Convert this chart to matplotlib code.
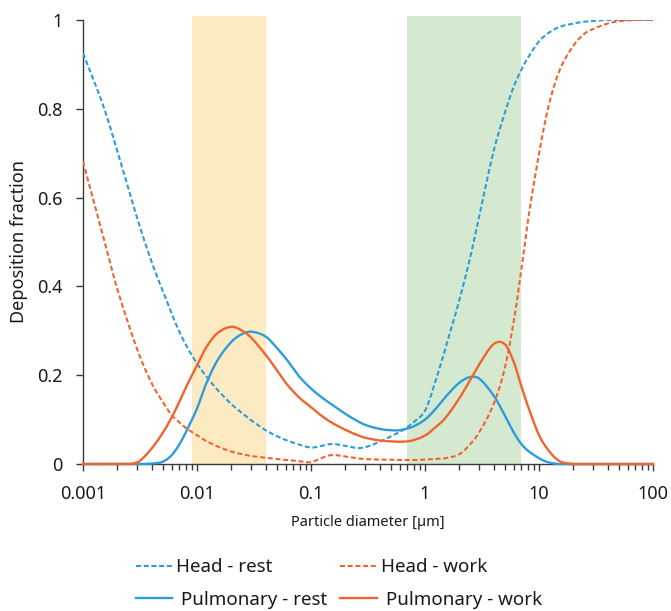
import numpy as np
import matplotlib.pyplot as plt
from matplotlib.ticker import FixedLocator, LogLocator, NullFormatter, FuncFormatter

plt.rcParams['font.family'] = ['Noto Sans', 'DejaVu Sans']

# particle diameter [um]
diameter = [0.001, 0.0015, 0.002, 0.003, 0.004, 0.005, 0.006, 0.007, 0.008,
            0.01, 0.012, 0.015, 0.02, 0.025, 0.03, 0.04, 0.05, 0.06, 0.07, 0.08,
            0.1, 0.12, 0.15, 0.2, 0.25, 0.3, 0.4, 0.5, 0.6, 0.7, 0.8,
            1, 1.2, 1.5, 2, 2.5, 3, 4, 5, 6, 7, 8,
            10, 12, 15, 20, 25, 30, 40, 50, 60, 70, 80, 100]

head_rest = [0.925, 0.808, 0.705, 0.552, 0.455, 0.390, 0.338, 0.298, 0.268,
             0.226, 0.198, 0.168, 0.135, 0.114, 0.098, 0.076, 0.063, 0.054, 0.048, 0.043,
             0.037, 0.040, 0.045, 0.041, 0.036, 0.038, 0.050, 0.062, 0.072, 0.083, 0.095,
             0.120, 0.176, 0.258, 0.369, 0.467, 0.560, 0.705, 0.790, 0.850, 0.888, 0.915,
             0.952, 0.970, 0.984, 0.992, 0.996, 0.998, 1.0, 1.0, 1.0, 1.0, 1.0, 1.0]

head_work = [0.681, 0.514, 0.394, 0.257, 0.182, 0.140, 0.110, 0.094, 0.081,
             0.065, 0.052, 0.040, 0.028, 0.022, 0.018, 0.014, 0.011, 0.009, 0.008, 0.006,
             0.004, 0.012, 0.020, 0.017, 0.013, 0.011, 0.010, 0.010, 0.009, 0.009, 0.009,
             0.010, 0.011, 0.013, 0.022, 0.045, 0.072, 0.135, 0.215, 0.321, 0.438, 0.548,
             0.699, 0.801, 0.884, 0.942, 0.969, 0.980, 0.992, 0.997, 0.999, 1.0, 1.0, 1.0]

pulm_rest = [0, 0, 0, 0, 0.001, 0.005, 0.020, 0.044, 0.072,
             0.125, 0.180, 0.232, 0.275, 0.293, 0.298, 0.287, 0.262, 0.238, 0.215, 0.195,
             0.170, 0.153, 0.135, 0.113, 0.098, 0.088, 0.079, 0.076, 0.076, 0.080, 0.085,
             0.100, 0.120, 0.150, 0.183, 0.196, 0.192, 0.154, 0.110, 0.071, 0.045, 0.030,
             0.013, 0.004, 0, 0, 0, 0, 0, 0, 0, 0, 0, 0]

pulm_work = [0, 0, 0, 0.004, 0.035, 0.070, 0.105, 0.140, 0.173,
             0.222, 0.262, 0.294, 0.309, 0.300, 0.284, 0.246, 0.212, 0.183, 0.163, 0.148,
             0.128, 0.111, 0.094, 0.077, 0.066, 0.059, 0.053, 0.051, 0.050, 0.051, 0.054,
             0.064, 0.080, 0.103, 0.148, 0.190, 0.225, 0.270, 0.270, 0.230, 0.175, 0.130,
             0.065, 0.032, 0.007, 0, 0, 0, 0, 0, 0, 0, 0, 0]

# shaded size bands [um]
yellow_band = (0.009, 0.04)
green_band = (0.7, 7)

blue = '#2E9CDB'
orange = '#F0652D'


def smooth(x, y, n=24):
    # cardinal (catmull-rom) spline through the points in log10(x) space,
    # the same idea as Excel's "smoothed line"
    lx = np.log10(np.asarray(x, float))
    y = np.asarray(y, float)
    h = np.diff(lx)
    d = np.zeros_like(y)
    d[1:-1] = (y[2:] - y[:-2]) / (lx[2:] - lx[:-2])
    d[0] = (y[1] - y[0]) / h[0]
    d[-1] = (y[-1] - y[-2]) / h[-1]
    xs, ys = [], []
    for k in range(len(h)):
        t = np.linspace(0, 1, n, endpoint=False)
        h00 = 2 * t**3 - 3 * t**2 + 1
        h10 = t**3 - 2 * t**2 + t
        h01 = -2 * t**3 + 3 * t**2
        h11 = t**3 - t**2
        xs.append(lx[k] + t * h[k])
        ys.append(h00 * y[k] + h10 * h[k] * d[k] + h01 * y[k + 1] + h11 * h[k] * d[k + 1])
    xs.append([lx[-1]])
    ys.append([y[-1]])
    yy = np.clip(np.concatenate(ys), 0, 1)
    return 10 ** np.concatenate(xs), yy


fig = plt.figure(figsize=(6.71, 6.11), dpi=100)
ax = fig.add_axes([0.1237, 0.2406, 0.8495, 0.7267])

ax.axvspan(*yellow_band, ymin=0, ymax=1.009, color='#FCEBC2', lw=0, clip_on=False, zorder=0)
ax.axvspan(*green_band, ymin=0, ymax=1.009, color='#D5E9D0', lw=0, clip_on=False, zorder=0)

dash = (0, (2.4, 1.3))
ax.plot(*smooth(diameter, head_rest), color=blue, lw=1.5, ls=dash, label='Head - rest', zorder=3)
ax.plot(*smooth(diameter, pulm_rest), color=blue, lw=1.7, label=' Pulmonary - rest',
        zorder=3, clip_on=False)
ax.plot(*smooth(diameter, head_work), color=orange, lw=1.5, ls=dash, label='Head - work', zorder=3)
ax.plot(*smooth(diameter, pulm_work), color=orange, lw=1.7, label=' Pulmonary - work',
        zorder=4, clip_on=False)

ax.set_xscale('log')
ax.set_xlim(0.001, 100)
ax.set_ylim(0, 1)

ax.xaxis.set_major_locator(FixedLocator([0.001, 0.01, 0.1, 1, 10, 100]))
ax.xaxis.set_major_formatter(FuncFormatter(lambda v, p: '{:g}'.format(v)))
ax.xaxis.set_minor_locator(LogLocator(base=10, subs=range(2, 10)))
ax.xaxis.set_minor_formatter(NullFormatter())
ax.set_yticks([0, 0.2, 0.4, 0.6, 0.8, 1])
ax.yaxis.set_major_formatter(FuncFormatter(lambda v, p: '{:g}'.format(v)))

for s in ['top', 'right']:
    ax.spines[s].set_visible(False)
for s in ['left', 'bottom']:
    ax.spines[s].set_color('#3a3a3a')
    ax.spines[s].set_linewidth(1.0)

ax.tick_params(axis='both', which='major', direction='out', length=5, width=1,
               color='#3a3a3a', labelsize=13, labelcolor='#1a1a1a', pad=10)
ax.tick_params(axis='x', which='minor', direction='out', length=4, width=1, color='#3a3a3a')

ax.set_xlabel('Particle diameter [µm]', fontsize=10.5, color='#1a1a1a', labelpad=9)
ax.set_ylabel('Deposition fraction', fontsize=13, color='#1a1a1a', labelpad=6)

handles, labels = ax.get_legend_handles_labels()
fig.legend(handles, labels,
           loc='center', bbox_to_anchor=(0.505, 0.045), ncol=2, frameon=False,
           fontsize=13.5, handlelength=1.95, handletextpad=0.2, columnspacing=0.7,
           labelspacing=0.75, labelcolor='#1a1a1a')

fig.savefig('out.png', dpi=100)
